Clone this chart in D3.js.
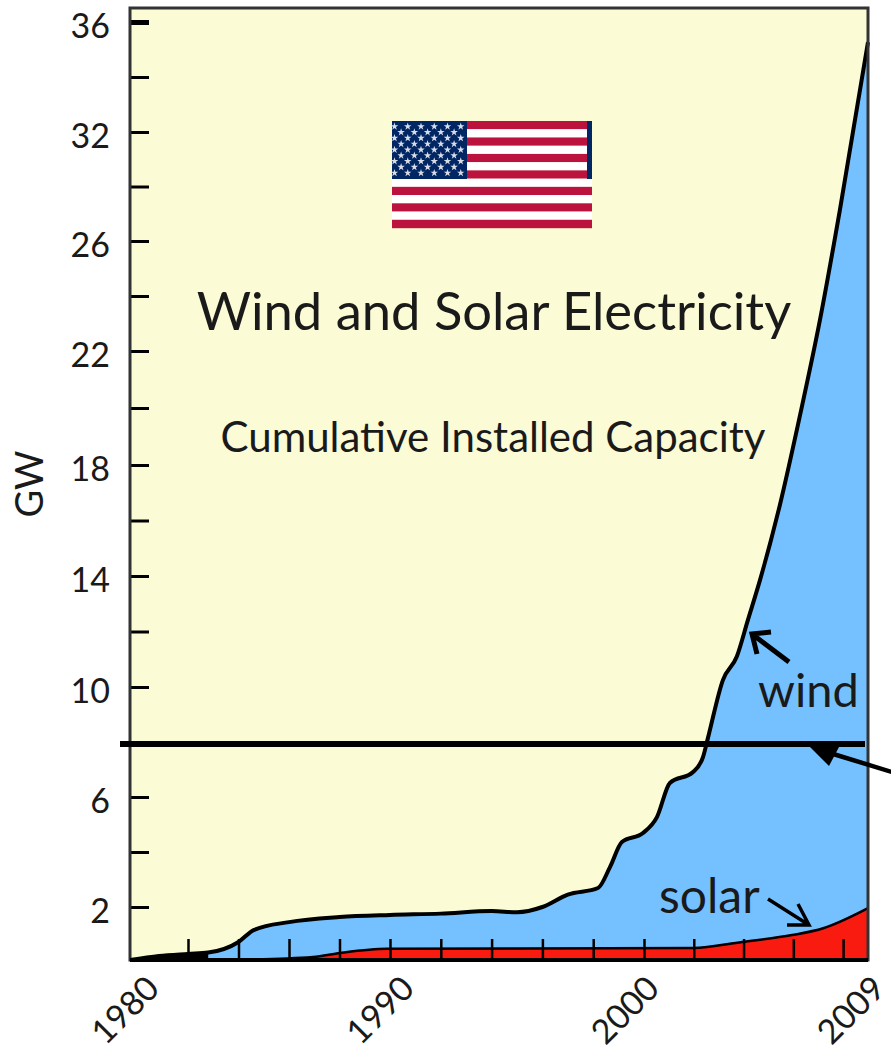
<!DOCTYPE html>
<html>
<head>
<meta charset="utf-8">
<script src="https://cdn.jsdelivr.net/npm/d3@7"></script>
<style>
	html, body { margin: 0; padding: 0; background: #fff; overflow: hidden; }
	text { font-family: Lato, "Open Sans", sans-serif; fill: #1a1a1a; }
</style>
</head>
<body>
<svg id="chart" width="891" height="1050"></svg>
<script>
// GW follows the printed labels, which are not evenly spaced
var windYears = [1980, 1981, 1982, 1982.8, 1984, 1984.6, 1986, 1988, 1990, 1992, 1994, 1995, 1996, 1997, 1998.19,
	1998.66, 1999.13, 1999.96, 2000.52, 2001.04, 2001.97, 2002.37, 2002.57, 2003.17, 2003.73, 2004.17,
	2004.66, 2005.46, 2006.27, 2007.07, 2007.87, 2009];
var windGW = [0, 0.15, 0.23, 0.28, 0.68, 1.13, 1.43, 1.62, 1.7, 1.75, 1.85, 1.8, 2.0, 2.45, 2.69,
	3.45, 4.36, 4.69, 5.27, 6.51, 6.91, 7.45, 8.15, 10.25, 11.1, 12.4,
	13.85, 16.56, 19.75, 23.13, 27.7, 35.27];
var solarYears = [1984, 1986.95, 1988.02, 1989.88, 2001.97, 2003.94, 2005.95, 2007.2, 2009];
var solarGW = [0, 0.11, 0.26, 0.42, 0.45, 0.68, 0.94, 1.2, 1.96];

var yLabels = [2, 6, 10, 14, 18, 22, 26, 32, 36];
var yMinor = [4, 8, 12, 16, 20, 24, 29, 34];
var xTicks = [1982, 1984, 1986, 1988, 1990, 1992, 1994, 1996, 1998, 2000, 2002, 2004, 2006, 2008];
var xLabels = [1980, 1990, 2000, 2009];
var limitGW = 7.93;

var starRows = [6, 5, 6, 5, 6, 5, 6, 5, 6];
var stripes = d3.range(13);

var svg = d3.select("#chart");

// the printed axis is not linear, so both scales are piecewise
var x = d3.scaleLinear()
	.domain([1980, 1982, 1990, 2000, 2009])
	.range([130, 188, 390, 644, 868]);
var y = d3.scaleLinear()
	.domain([0, 2, 6, 10, 14, 18, 22, 26, 32, 36])
	.range([960, 907, 797, 687, 576, 465, 351, 241, 132, 22]);

var top_ = 8, left = 130, right = 868, bottom = 960;

svg.append("rect")
	.attr("x", left).attr("y", top_)
	.attr("width", right - left).attr("height", bottom - top_)
	.attr("fill", "#fbfbd5");

function series(years, values) {
	return years.map(function (d, i) { return {year: d, gw: values[i]}; });
}
var wind = series(windYears, windGW);
var solar = series(solarYears, solarGW);

var area = d3.area()
	.curve(d3.curveMonotoneX)
	.x(function (d) { return x(d.year); })
	.y0(y(0))
	.y1(function (d) { return y(d.gw); });
var line = d3.line()
	.curve(d3.curveMonotoneX)
	.x(function (d) { return x(d.year); })
	.y(function (d) { return y(d.gw); });

svg.append("path").datum(wind).attr("d", area).attr("fill", "#75c1ff");
svg.append("path").datum(solar).attr("d", area).attr("fill", "#f91a10");

// both series start so thin that only the outline is left
svg.append("path").datum(wind.filter(function (d) { return d.year <= 1982.8; })).attr("d", area).attr("fill", "#000");
svg.append("path").datum(solar.filter(function (d) { return d.year <= 1986.95; })).attr("d", area).attr("fill", "#000");

svg.append("path").datum(wind).attr("d", line)
	.attr("fill", "none").attr("stroke", "#000").attr("stroke-width", 4).attr("stroke-linejoin", "round");
svg.append("path").datum(solar).attr("d", line)
	.attr("fill", "none").attr("stroke", "#000").attr("stroke-width", 2.5).attr("stroke-linejoin", "round");

// axes, ticks point inwards
var yAxis = d3.axisLeft(y)
	.tickValues(yLabels.concat(yMinor))
	.tickSize(-19)
	.tickFormat("");
var yG = svg.append("g").attr("transform", "translate(" + left + ",0)").call(yAxis);
yG.select(".domain").remove();
yG.selectAll(".tick line").attr("stroke", "#000").attr("stroke-width", 3);
yG.selectAll(".tick").filter(function (d) { return d === 36; }).select("line").attr("stroke-width", 5);

var xAxis = d3.axisBottom(x)
	.tickValues(xTicks)
	.tickSize(-21)
	.tickFormat("");
var xG = svg.append("g").attr("transform", "translate(0," + bottom + ")").call(xAxis);
xG.select(".domain").remove();
xG.selectAll(".tick line").attr("stroke", "#000").attr("stroke-width", 2.5);

// frame
svg.append("rect")
	.attr("x", left).attr("y", top_)
	.attr("width", right - left).attr("height", bottom - top_)
	.attr("fill", "none").attr("stroke", "#333").attr("stroke-width", 3);
svg.append("line")
	.attr("x1", left).attr("x2", right)
	.attr("y1", bottom).attr("y2", bottom)
	.attr("stroke", "#000").attr("stroke-width", 4);

// tick labels
svg.selectAll(".ylabel").data(yLabels).enter().append("text")
	.attr("class", "ylabel")
	.attr("x", 110)
	.attr("y", function (d) { return y(d) + 16; })
	.attr("text-anchor", "end")
	.attr("font-size", 34)
	.text(function (d) { return d; });

// 2009 sits a bit further left so it stays inside the window
var xLabelShift = {1980: -5, 1990: -10, 2000: -19, 2009: -17};
svg.selectAll(".xlabel").data(xLabels).enter().append("text")
	.attr("class", "xlabel")
	.attr("transform", function (d) { return "translate(" + (x(d) + xLabelShift[d]) + ",1010) rotate(-45)"; })
	.attr("text-anchor", "middle")
	.attr("dy", "0.35em")
	.attr("font-size", 34)
	.text(function (d) { return d; });

svg.append("text")
	.attr("transform", "translate(43,484) rotate(-90)")
	.attr("text-anchor", "middle")
	.attr("font-size", 38)
	.text("GW");

// titles
svg.append("text").attr("x", 494).attr("y", 330).attr("text-anchor", "middle")
	.attr("font-size", 52.5).text("Wind and Solar Electricity");
svg.append("text").attr("x", 493).attr("y", 452).attr("text-anchor", "middle")
	.attr("font-size", 42).text("Cumulative Installed Capacity");
svg.append("text").attr("x", 758).attr("y", 707).attr("font-size", 47).text("wind");
svg.append("text").attr("x", 659).attr("y", 913).attr("font-size", 48).text("solar");

// flag
var flag = svg.append("g").attr("transform", "translate(392,121)");
var flagW = 200, flagH = 107, cantonW = 75, cantonH = 58;
var stripeH = flagH / 13;
flag.selectAll(".stripe").data(stripes).enter().append("rect")
	.attr("class", "stripe")
	.attr("x", 0)
	.attr("y", function (d) { return d * stripeH; })
	.attr("width", flagW)
	.attr("height", stripeH + 0.2)
	.attr("fill", function (d) { return d % 2 ? "#fff" : "#bb133e"; });
flag.append("rect").attr("width", cantonW).attr("height", cantonH).attr("fill", "#002664");
flag.append("rect").attr("x", 195).attr("width", 5).attr("height", cantonH).attr("fill", "#002664");
var star = d3.symbol().type(d3.symbolStar).size(18);
starRows.forEach(function (n, row) {
	d3.range(n).forEach(function (i) {
		flag.append("path")
			.attr("d", star)
			.attr("transform", "translate(" + (2.5 + (n === 6 ? 0 : 6.6) + i * 13.25) + "," + (5.5 + row * 5.8) + ")")
			.attr("fill", "#d8dde8");
	});
});

// limit line and annotation arrows
svg.append("line")
	.attr("x1", 120).attr("x2", 865)
	.attr("y1", y(limitGW)).attr("y2", y(limitGW))
	.attr("stroke", "#000").attr("stroke-width", 6);

// pointer from beyond the right edge, filled head
svg.append("line").attr("x1", 895).attr("y1", 773).attr("x2", 830).attr("y2", 753)
	.attr("stroke", "#000").attr("stroke-width", 4.5);
svg.append("path").attr("d", "M809,746 L839,747 L829,766 Z").attr("fill", "#000");

// wind arrow
svg.append("path").attr("d", "M789,662 L752,634 M771,632 L752,634 L757,654")
	.attr("fill", "none").attr("stroke", "#000").attr("stroke-width", 5);
// solar arrow
svg.append("path").attr("d", "M768,899 L809,925 M798,904 L809,925 L787,925")
	.attr("fill", "none").attr("stroke", "#000").attr("stroke-width", 3.5);
</script>
</body>
</html>
